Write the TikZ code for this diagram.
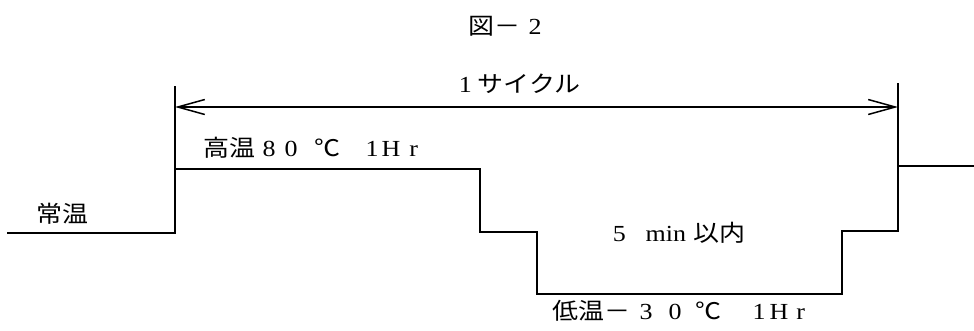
\documentclass[tikz,border=0pt]{standalone}
\usepackage{fontspec}
\setmainfont[FakeStretch=1.13]{Liberation Serif}
\newfontfamily\cjk[FakeStretch=1.13]{Noto Sans CJK JP}
\usetikzlibrary{arrows.meta}
\begin{document}
\begin{tikzpicture}[x=1pt,y=-1pt,line width=1.5pt,
  txt/.style={inner sep=0pt,anchor=base west,font=\fontsize{23}{25}\selectfont},
  dim/.style={line width=1.5pt,{Straight Barb[length=27pt,width=15pt]}-{Straight Barb[length=27pt,width=15pt]}}]
\useasboundingbox (0,0) rectangle (974,330);
% waveform corners
\coordinate (w0) at (7,233);
\coordinate (w1) at (175,233);
\coordinate (w2) at (175,169);
\coordinate (w3) at (480,169);
\coordinate (w4) at (480,232);
\coordinate (w5) at (537,232);
\coordinate (w6) at (537,294);
\coordinate (w7) at (842,294);
\coordinate (w8) at (842,231);
\coordinate (w9) at (898,231);
\coordinate (w10) at (898,166);
\coordinate (w11) at (974,166);
\draw (w0) -- (w1) -- (w2) -- (w3) -- (w4) -- (w5) -- (w6) -- (w7) -- (w8) -- (w9) -- (w10) -- (w11);
% cycle markers
\coordinate (lt) at (175,86);
\coordinate (rt) at (898,83);
\draw (lt) -- (w2);
\draw (rt) -- (w10);
\coordinate (al) at (175,107);
\coordinate (ar) at (898,107);
\draw[dim] (al) -- (ar);
% texts
\node[txt] (title) at (468,34) {{\cjk 図－}\hspace{8pt}2};
\node[txt] (cycle) at (458,92) {1\hspace{6pt}{\cjk サイクル}};
\node[txt] (amb) at (36,222) {\cjk 常温};
\node[txt] (high) at (203,156) {{\cjk 高温}\hspace{7pt}8\hspace{9pt}0\hspace{17pt}{\cjk ℃}\hspace{25pt}1\hspace{3pt}H\hspace{9pt}r};
\node[txt] (trans) at (612,241) {5\hspace{20pt}min\hspace{7pt}{\cjk 以内}};
\node[txt] (low) at (552,319) {{\cjk 低温－}\hspace{9pt}3\hspace{16pt}0\hspace{14pt}{\cjk ℃}\hspace{31pt}1\hspace{4pt}H\hspace{8pt}r};
\end{tikzpicture}
\end{document}
